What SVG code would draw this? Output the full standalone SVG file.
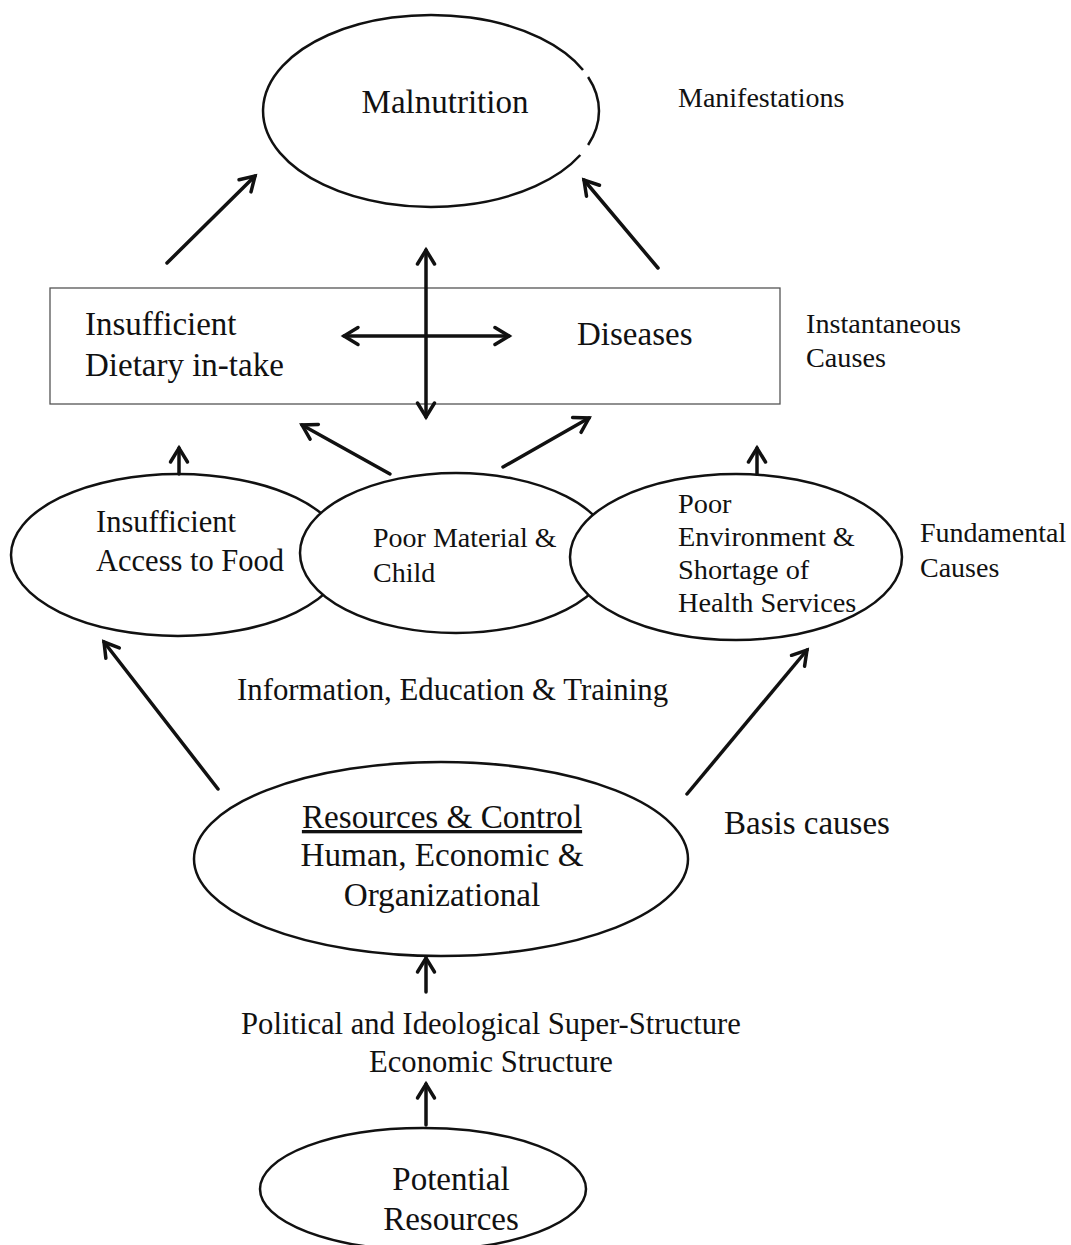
<svg xmlns="http://www.w3.org/2000/svg" width="1071" height="1245" viewBox="0 0 1071 1245">
  <style>
    text { font-family: "Liberation Serif", "Times New Roman", serif; fill: #111; }
    .node { fill: #fff; stroke: #111; stroke-width: 2.5; }
    .rim { fill: none; stroke: #111; stroke-width: 2.5; }
    .box { fill: #fff; stroke: #555; stroke-width: 1.3; }
    .edge { fill: none; stroke: #111; stroke-width: 3.5; stroke-linecap: round; }
  </style>
  <defs>
    <marker id="head" markerUnits="userSpaceOnUse" viewBox="-18 -12 22 24" refX="0" refY="0" markerWidth="22" markerHeight="24" orient="auto-start-reverse">
      <path d="M-14,-8.5 L0,0 L-14,8.5" fill="none" stroke="#111" stroke-width="3.5" stroke-linecap="round" stroke-linejoin="miter"/>
    </marker>
  </defs>

  <!-- Manifestations: outline broken in two places on the right -->
  <g id="malnutrition">
    <ellipse cx="431" cy="111" rx="168" ry="96" fill="#fff"/>
    <path class="rim" d="M583,70 A168,96 0 1 0 580.3,155"/>
    <path class="rim" d="M588.1,77 A168,96 0 0 1 588.1,145"/>
    <text x="445" y="113" font-size="33" text-anchor="middle">Malnutrition</text>
  </g>
  <g id="label-manifestations">
    <text x="678" y="107" font-size="28">Manifestations</text>
  </g>

  <!-- Instantaneous causes -->
  <g id="instant-box">
    <rect class="box" x="50" y="288" width="730" height="116"/>
  </g>
  <g id="dietary">
    <text x="85" y="335" font-size="33">Insufficient</text>
    <text x="85" y="376" font-size="33">Dietary in-take</text>
  </g>
  <g id="diseases">
    <text x="577" y="345" font-size="33">Diseases</text>
  </g>
  <g id="label-instantaneous">
    <text x="806" y="333" font-size="28.2">Instantaneous</text>
    <text x="806" y="367" font-size="28.2">Causes</text>
  </g>

  <!-- Fundamental causes -->
  <g id="access-food">
    <ellipse class="node" cx="178" cy="555" rx="167" ry="81"/>
    <text x="96" y="532" font-size="30.5">Insufficient</text>
    <text x="96" y="571" font-size="30.5">Access to Food</text>
  </g>
  <g id="material-child">
    <ellipse class="node" cx="456" cy="553" rx="156" ry="80"/>
    <text x="373" y="547" font-size="28">Poor Material &amp;</text>
    <text x="373" y="582" font-size="28">Child</text>
  </g>
  <g id="environment">
    <ellipse class="node" cx="736" cy="557" rx="166" ry="83"/>
    <text x="678" y="513" font-size="28.3">Poor</text>
    <text x="678" y="546" font-size="28.3">Environment &amp;</text>
    <text x="678" y="579" font-size="28.3">Shortage of</text>
    <text x="678" y="612" font-size="28.3">Health Services</text>
  </g>
  <g id="label-fundamental">
    <text x="920" y="542" font-size="28">Fundamental</text>
    <text x="920" y="577" font-size="28">Causes</text>
  </g>

  <g id="label-information">
    <text x="237" y="700" font-size="30.8">Information, Education &amp; Training</text>
  </g>

  <!-- Basic causes -->
  <g id="resources-control">
    <ellipse class="node" cx="441" cy="859" rx="247" ry="97"/>
    <text x="442" y="828" font-size="33.2" text-anchor="middle" text-decoration="underline">Resources &amp; Control</text>
    <text x="442" y="866" font-size="33.2" text-anchor="middle">Human, Economic &amp;</text>
    <text x="442" y="906" font-size="33.2" text-anchor="middle">Organizational</text>
  </g>
  <g id="label-basis">
    <text x="724" y="834" font-size="33">Basis causes</text>
  </g>

  <g id="structure">
    <text x="491" y="1034" font-size="30.6" text-anchor="middle">Political and Ideological Super-Structure</text>
    <text x="491" y="1072" font-size="30.6" text-anchor="middle">Economic Structure</text>
  </g>

  <g id="potential-resources">
    <ellipse class="node" cx="423" cy="1189" rx="163" ry="61"/>
    <text x="451" y="1190" font-size="33" text-anchor="middle">Potential</text>
    <text x="451" y="1230" font-size="33" text-anchor="middle">Resources</text>
  </g>

  <!-- Connectors -->
  <g id="connectors">
    <line class="edge" x1="167" y1="263" x2="255" y2="176" marker-end="url(#head)"/>
    <line class="edge" x1="658" y1="268" x2="584" y2="180" marker-end="url(#head)"/>
    <line class="edge" x1="426" y1="417" x2="426" y2="250" marker-start="url(#head)" marker-end="url(#head)"/>
    <line class="edge" x1="344" y1="336" x2="509" y2="336" marker-start="url(#head)" marker-end="url(#head)"/>
    <line class="edge" x1="390" y1="474" x2="302" y2="425" marker-end="url(#head)"/>
    <line class="edge" x1="503" y1="467" x2="589" y2="418" marker-end="url(#head)"/>
    <line class="edge" x1="179" y1="474" x2="179" y2="448" marker-end="url(#head)"/>
    <line class="edge" x1="757" y1="474" x2="757" y2="448" marker-end="url(#head)"/>
    <line class="edge" x1="218" y1="789" x2="104" y2="642" marker-end="url(#head)"/>
    <line class="edge" x1="687" y1="794" x2="807" y2="650" marker-end="url(#head)"/>
    <line class="edge" x1="426" y1="992" x2="426" y2="958" marker-end="url(#head)"/>
    <line class="edge" x1="426" y1="1125" x2="426" y2="1084" marker-end="url(#head)"/>
  </g>
</svg>
